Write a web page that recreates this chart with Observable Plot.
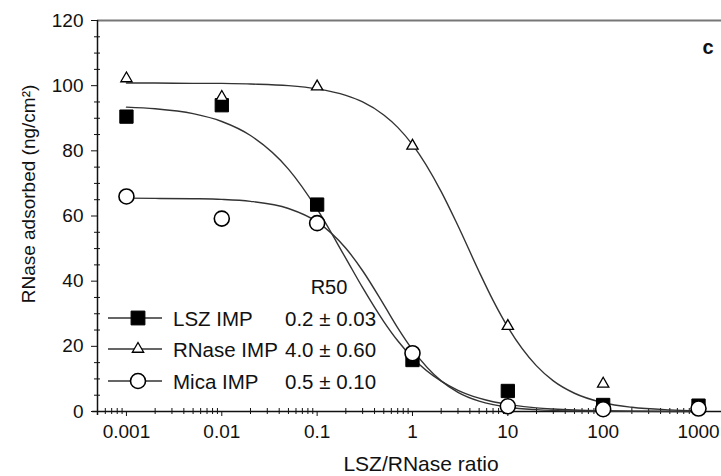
<!DOCTYPE html>
<html>
<head>
<meta charset="utf-8">
<script src="https://cdn.jsdelivr.net/npm/d3@7"></script>
<script src="https://cdn.jsdelivr.net/npm/@observablehq/plot@0.6"></script>
<style>
  html, body { margin: 0; padding: 0; background: #fff; }
  #chart svg { display: block; }
</style>
</head>
<body>
<div id="chart"></div>
<script>
// Measured LSZ/RNase ratios
const ratios = [0.001, 0.01, 0.1, 1, 10, 100, 1000];

// RNase adsorbed (ng/cm²) on each surface
const lszImp   = [90.5, 94.0, 63.5, 15.8, 6.3, 2.0, 1.8];
const rnaseImp = [102.2, 96.5, 99.7, 81.5, 26.2, 8.5, 1.5];
const micaImp  = [66.0, 59.2, 57.8, 17.9, 1.6, 0.7, 0.9];

// Fitted adsorption curves, sampled along the ratio axis
const fitRatios = [0.001, 0.002, 0.005, 0.01, 0.02, 0.05, 0.1, 0.2, 0.3, 0.5, 0.7, 1,
                   2, 3, 5, 7, 10, 20, 30, 50, 100, 200, 500, 1000];
const lszFit   = [93.4, 92.9, 91.4, 89.0, 84.7, 74.4, 62.1, 47.0, 38.0, 27.6, 21.7, 16.5,
                  9.3, 6.5, 4.1, 3.0, 2.2, 1.1, 0.76, 0.47, 0.24, 0.12, 0.05, 0.03];
const rnaseFit = [100.8, 100.8, 100.7, 100.7, 100.5, 100.0, 99.0, 97.0, 95.0, 91.0, 87.2, 81.9,
                  67.5, 57.0, 42.9, 34.1, 25.9, 14.0, 9.4, 5.6, 2.7, 1.3, 0.5, 0.2];
const micaFit  = [65.5, 65.4, 65.3, 65.1, 64.5, 62.3, 58.2, 50.1, 43.2, 32.8, 25.7, 19.0,
                  9.4, 5.9, 3.2, 2.1, 1.3, 0.56, 0.33, 0.17, 0.07, 0.03, 0.01, 0.0];

// Legend entries and R50 values
const seriesNames = ["LSZ IMP", "RNase IMP", "Mica IMP"];
const r50Labels   = ["0.2 \u00b1 0.03", "4.0 \u00b1 0.60", "0.5 \u00b1 0.10"];

// Axis ticks
const yTicks = [0, 20, 40, 60, 80, 100, 120];
const yMinorTicks = d3.range(5, 120, 5).filter(v => v % 20 !== 0);
const xTicks = [0.001, 0.01, 0.1, 1, 10, 100, 1000];
const xTickLabels = ["0.001", "0.01", "0.1", "1", "10", "100", "1000"];
const xMinorTicks = [];
for (const dec of [0.0001, 0.001, 0.01, 0.1, 1, 10, 100, 1000]) {
  for (let m = 2; m <= 9; m++) {
    const v = +(dec * m).toPrecision(3);
    if (v > 0.0005 && v < 1700) xMinorTicks.push(v);
  }
}

const xLabel = "LSZ/RNase ratio";
const yLabel = "RNase adsorbed (ng/cm\u00b2)";
const panelLetter = "c";

// Tables for the marks
const points = (ys) => ratios.map((r, i) => ({ratio: r, value: ys[i]}));
const fit = (ys) => fitRatios.map((r, i) => ({ratio: r, value: ys[i]}));

const xDomain = [0.000497, 1742];
const font = "'Liberation Sans', Arial, Helvetica, sans-serif";
const ink = "#111";

const chart = Plot.plot({
  width: 721,
  height: 476,
  marginLeft: 97,
  marginRight: 0,
  marginTop: 20,
  marginBottom: 65,
  style: {fontFamily: font, fontSize: "19px", color: ink, background: "#fff", overflow: "visible"},
  x: {type: "log", domain: xDomain},
  y: {domain: [0, 120]},
  marks: [
    // top border
    Plot.ruleY([120], {stroke: "#777", strokeWidth: 2}),
    // bottom axis line (starts a little left of the y axis)
    Plot.ruleY([0], {x1: xDomain[0] * 0.89, x2: xDomain[1], stroke: ink, strokeWidth: 1.5}),
    // left axis line
    Plot.ruleX([xDomain[0]], {y1: -1.2, y2: 120, stroke: ink, strokeWidth: 1.5}),

    Plot.axisY({ticks: yTicks, tickSize: 6, tickPadding: 8, label: null, stroke: ink, fill: ink, fontSize: 19}),
    Plot.axisY({ticks: yMinorTicks, tickSize: 6, dx: 3, tickFormat: () => "", label: null, stroke: ink}),
    Plot.axisX({ticks: xTicks, tickSize: 5, tickPadding: 8, label: null, stroke: ink, fill: ink, fontSize: 19,
                tickFormat: d => xTickLabels[xTicks.indexOf(d)]}),
    Plot.axisX({ticks: xMinorTicks, tickSize: 6, dy: -3, tickFormat: () => "", label: null, stroke: ink}),

    // fitted curves
    Plot.line(fit(rnaseFit), {x: "ratio", y: "value", curve: "monotone-x", stroke: "#333", strokeWidth: 1.4}),
    Plot.line(fit(lszFit),   {x: "ratio", y: "value", curve: "monotone-x", stroke: "#333", strokeWidth: 1.4}),
    Plot.line(fit(micaFit),  {x: "ratio", y: "value", curve: "monotone-x", stroke: "#333", strokeWidth: 1.4}),

    // measured points
    Plot.dot(points(lszImp),   {x: "ratio", y: "value", symbol: "square", r: 7.5, fill: "#000", stroke: "#000", strokeWidth: 1}),
    Plot.dot(points(rnaseImp), {x: "ratio", y: "value", symbol: "triangle", r: 4.2, fill: "#fff", stroke: "#000", strokeWidth: 1.3}),
    Plot.dot(points(micaImp),  {x: "ratio", y: "value", symbol: "circle", r: 7.5, fill: "#fff", stroke: "#000", strokeWidth: 1.6})
  ]
});

document.getElementById("chart").appendChild(chart);

// Axis titles, panel letter and the in-plot legend
const svg = d3.select(chart);
const g = svg.append("g").attr("font-family", font).attr("fill", ink).attr("text-anchor", "start");

g.append("text")
  .attr("x", 421).attr("y", 463)
  .attr("text-anchor", "middle").attr("dominant-baseline", "central")
  .attr("font-size", 21)
  .text(xLabel);

g.append("text")
  .attr("transform", "translate(28,194) rotate(-90)")
  .attr("text-anchor", "middle").attr("dominant-baseline", "central")
  .attr("font-size", 19)
  .text(yLabel);

g.append("text")
  .attr("x", 708).attr("y", 47)
  .attr("text-anchor", "middle").attr("dominant-baseline", "central")
  .attr("font-size", 20).attr("font-weight", "bold")
  .text(panelLetter);

g.append("text")
  .attr("x", 329).attr("y", 287)
  .attr("text-anchor", "middle").attr("dominant-baseline", "central")
  .attr("font-size", 20)
  .text("R50");

const legendRows = [318, 349, 381];
const legendSymbols = [
  {type: d3.symbolSquare, r: 7.8, fill: "#000", sw: 1},
  {type: d3.symbolTriangle, r: 4.2, fill: "#fff", sw: 1.3},
  {type: d3.symbolCircle, r: 7.5, fill: "#fff", sw: 1.6}
];
seriesNames.forEach((name, i) => {
  const y = legendRows[i];
  const s = legendSymbols[i];
  g.append("line")
    .attr("x1", 108).attr("x2", 162).attr("y1", y).attr("y2", y)
    .attr("stroke", "#333").attr("stroke-width", 1.4);
  g.append("path")
    .attr("transform", `translate(138,${y})`)
    .attr("d", d3.symbol(s.type, s.r * s.r * Math.PI)())
    .attr("fill", s.fill).attr("stroke", "#000").attr("stroke-width", s.sw);
  g.append("text")
    .attr("x", 173).attr("y", y)
    .attr("text-anchor", "start")
    .attr("dominant-baseline", "central").attr("font-size", 20.5)
    .text(name);
  g.append("text")
    .attr("x", 285).attr("y", y)
    .attr("text-anchor", "start")
    .attr("dominant-baseline", "central").attr("font-size", 20.5)
    .text(r50Labels[i]);
});
</script>
</body>
</html>
